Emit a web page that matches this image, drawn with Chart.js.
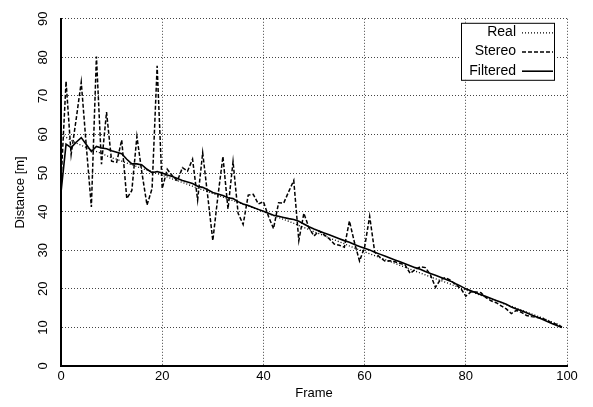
<!DOCTYPE html>
<html>
<head>
<meta charset="utf-8">
<script src="https://cdn.jsdelivr.net/npm/chart.js@4.4.1/dist/chart.umd.min.js"></script>
<style>
  html, body { margin: 0; padding: 0; background: #fff; }
  #wrap { width: 593px; height: 407px; }
</style>
</head>
<body>
<div id="wrap"><canvas id="chart"></canvas></div>
<script>
// frame index of each sample
const frames = [
  0, 1, 2, 3, 4, 5, 6, 7, 8, 9, 10, 11, 12, 13, 14, 15, 16, 17, 18, 19,
  20, 21, 22, 23, 24, 25, 26, 27, 28, 29, 30, 31, 32, 33, 34, 35, 36, 37, 38, 39,
  40, 41, 42, 43, 44, 45, 46, 47, 48, 49, 50, 51, 52, 53, 54, 55, 56, 57, 58, 59,
  60, 61, 62, 63, 64, 65, 66, 67, 68, 69, 70, 71, 72, 73, 74, 75, 76, 77, 78, 79,
  80, 81, 82, 83, 84, 85, 86, 87, 88, 89, 90, 91, 92, 93, 94, 95, 96, 97, 98, 99
];

const real = [
  60.0, 59.3, 58.5, 57.8, 57.2, 56.6, 56.0, 55.6, 55.1, 54.5,
  54.0, 53.6, 53.1, 52.6, 52.2, 51.7, 51.2, 50.8, 50.4, 49.9,
  49.4, 49.0, 48.5, 48.0, 47.6, 47.1, 46.6, 46.1, 45.7, 45.2,
  44.7, 44.3, 43.8, 43.3, 42.9, 42.4, 41.9, 41.5, 41.0, 40.5,
  40.0, 39.5, 39.0, 38.5, 38.0, 37.5, 37.0, 36.4, 35.9, 35.4,
  34.8, 34.3, 33.8, 33.2, 32.7, 32.2, 31.7, 31.1, 30.6, 30.1,
  29.6, 29.1, 28.6, 28.1, 27.6, 27.1, 26.6, 26.1, 25.6, 25.1,
  24.6, 24.1, 23.6, 23.1, 22.6, 22.2, 21.7, 21.2, 20.7, 20.2,
  19.7, 19.3, 18.8, 18.3, 17.8, 17.4, 16.9, 16.4, 15.9, 15.5,
  15.0, 14.5, 14.0, 13.5, 13.0, 12.5, 12.0, 11.4, 10.9, 10.3
];

const stereo = [
  47.5, 73.8, 54.8, 64.0, 73.6, 57.0, 41.2, 80.2, 52.3, 65.8,
  53.1, 52.8, 58.6, 43.4, 45.5, 59.5, 50.0, 41.7, 46.0, 77.8,
  46.0, 51.0, 49.3, 48.0, 51.4, 50.5, 53.6, 43.0, 55.3, 44.0,
  32.5, 43.9, 54.3, 40.7, 53.0, 39.6, 36.7, 44.3, 44.5, 42.0,
  42.6, 38.8, 35.6, 42.3, 42.2, 45.2, 48.1, 32.5, 39.6, 35.8,
  33.7, 35.0, 34.0, 33.0, 31.6, 31.3, 30.8, 37.6, 32.0, 27.2,
  30.8, 38.8, 29.5, 28.2, 27.2, 27.3, 27.0, 26.6, 26.2, 24.0,
  25.0, 25.7, 25.5, 23.7, 20.4, 22.4, 22.9, 22.2, 21.1, 20.1,
  18.1, 19.2, 19.2, 19.0, 17.7, 16.9, 16.4, 15.6, 14.8, 13.6,
  14.4, 13.9, 13.1, 12.8, 12.6, 12.5, 11.8, 11.2, 10.8, 10.1
];

const filtered = [
  45.0, 57.5, 56.6, 58.0, 59.2, 57.4, 55.6, 56.9, 56.5, 56.3,
  55.8, 55.4, 55.0, 53.6, 52.4, 52.4, 52.1, 51.0, 50.1, 50.4,
  50.0, 49.5, 49.1, 48.6, 48.1, 47.7, 47.3, 46.6, 46.3, 45.7,
  45.0, 44.6, 44.2, 43.6, 43.4, 42.6, 42.0, 41.6, 41.1, 40.6,
  40.1, 39.6, 39.1, 38.8, 38.5, 38.2, 38.0, 37.5, 36.8, 36.1,
  35.5, 35.0, 34.5, 34.0, 33.5, 33.0, 32.5, 32.1, 31.5, 31.0,
  30.5, 30.1, 29.5, 29.0, 28.5, 28.0, 27.5, 27.0, 26.5, 26.0,
  25.5, 25.1, 24.5, 24.0, 23.5, 23.0, 22.5, 22.0, 21.3, 20.7,
  20.0, 19.5, 19.0, 18.5, 18.0, 17.5, 17.0, 16.5, 16.0, 15.3,
  14.8, 14.3, 13.8, 13.2, 12.7, 12.2, 11.6, 11.0, 10.5, 10.0
];

const seriesNames = ['Real', 'Stereo', 'Filtered'];
const xTicks = [0, 20, 40, 60, 80, 100];
const yTicks = [0, 10, 20, 30, 40, 50, 60, 70, 80, 90];

function points(values) {
  return frames.map((f, i) => ({ x: f, y: values[i] }));
}

const FONT = 'Liberation Sans, Arial, Helvetica, sans-serif';

// y tick labels are written sideways, reading upwards
const sideTicks = {
  id: 'sideTicks',
  afterDraw(chart) {
    const c = chart.ctx;
    const y = chart.scales.y;
    c.save();
    c.font = '13px ' + FONT;
    c.fillStyle = '#000';
    c.textAlign = 'center';
    c.textBaseline = 'middle';
    y.ticks.forEach(t => {
      c.save();
      c.translate(43, y.getPixelForValue(t.value));
      c.rotate(-Math.PI / 2);
      c.fillText(String(t.value), 0, 0);
      c.restore();
    });
    c.restore();
  }
};

// boxed legend drawn inside the plot, text on the left, line sample on the right
const boxLegend = {
  id: 'boxLegend',
  afterDatasetsDraw(chart) {
    const c = chart.ctx;
    const a = chart.chartArea;
    const right = a.right - 13, top = a.top + 4, w = 93, h = 57;
    c.save();
    c.fillStyle = '#fff';
    c.fillRect(right - w, top, w, h);
    c.strokeStyle = '#000';
    c.lineWidth = 1;
    c.setLineDash([]);
    c.strokeRect(right - w + 0.5, top + 0.5, w, h);
    c.font = '14px ' + FONT;
    c.textAlign = 'right';
    c.textBaseline = 'middle';
    chart.data.datasets.forEach((ds, i) => {
      const y = top + 9.5 + i * 19.2;
      c.fillStyle = '#000';
      c.fillText(ds.label, right - 38, y);
      c.beginPath();
      c.setLineDash(ds.borderDash || []);
      c.lineWidth = ds.borderWidth;
      c.strokeStyle = '#000';
      c.moveTo(right - 32, y + 0.5);
      c.lineTo(right - 1, y + 0.5);
      c.stroke();
    });
    c.restore();
  }
};

const ctx = document.getElementById('chart');
new Chart(ctx, {
  type: 'line',
  data: {
    datasets: [
      {
        label: seriesNames[0],
        data: points(real),
        borderColor: '#000',
        borderWidth: 1.3,
        borderDash: [1, 2],
        pointRadius: 0,
        tension: 0
      },
      {
        label: seriesNames[1],
        data: points(stereo),
        borderColor: '#000',
        borderWidth: 1.5,
        borderDash: [4, 2],
        pointRadius: 0,
        tension: 0
      },
      {
        label: seriesNames[2],
        data: points(filtered),
        borderColor: '#000',
        borderWidth: 1.6,
        pointRadius: 0,
        tension: 0
      }
    ]
  },
  options: {
    responsive: true,
    maintainAspectRatio: false,
    animation: false,
    events: [],
    layout: { padding: { left: 0, right: 26, top: 11, bottom: 0 } },
    plugins: {
      legend: { display: false },
      tooltip: { enabled: false }
    },
    scales: {
      x: {
        type: 'linear',
        min: 0,
        max: 100,
        afterFit: (s) => { s.height = 41; },
        afterBuildTicks: (s) => { s.ticks = xTicks.map(v => ({ value: v })); },
        ticks: {
          color: '#000',
          font: { family: FONT, size: 13 },
          padding: 3,
          maxRotation: 0
        },
        grid: { color: '#444', lineWidth: 1, drawTicks: false },
        border: { display: true, color: '#000', width: 2, dash: [1, 2] },
        title: {
          display: true,
          text: 'Frame',
          color: '#000',
          font: { family: FONT, size: 13 },
          padding: { top: 0, bottom: 6 }
        }
      },
      y: {
        type: 'linear',
        min: 0,
        max: 90,
        afterFit: (s) => { s.width = 61; },
        afterBuildTicks: (s) => { s.ticks = yTicks.map(v => ({ value: v })); },
        ticks: {
          color: 'rgba(0,0,0,0)',
          font: { family: FONT, size: 13 },
          padding: 11
        },
        grid: { color: '#444', lineWidth: 1, drawTicks: false },
        border: { display: true, color: '#000', width: 2, dash: [1, 2] },
        title: {
          display: true,
          text: 'Distance [m]',
          color: '#000',
          font: { family: FONT, size: 13 },
          padding: { top: 13, bottom: 0 }
        }
      }
    }
  },
  plugins: [boxLegend, sideTicks]
});
</script>
</body>
</html>
